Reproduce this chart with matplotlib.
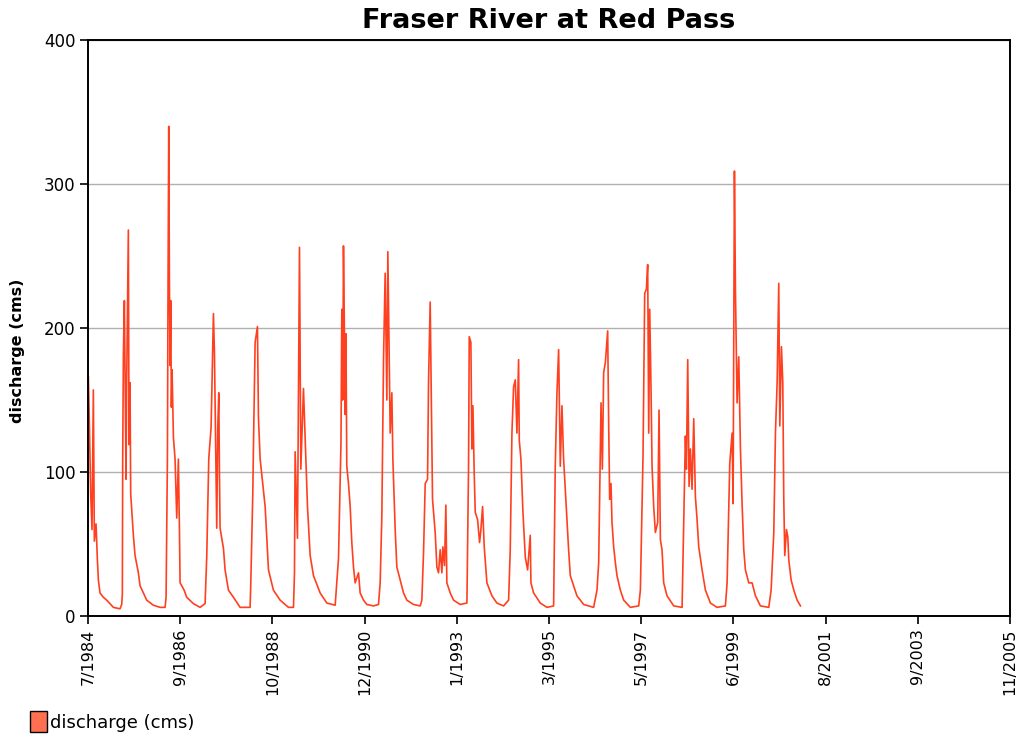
import numpy as np
import matplotlib
matplotlib.use('Agg')
import matplotlib.pyplot as plt
from matplotlib.patches import Patch

# daily discharge (decimal year, cms)
year = [1984.508, 1984.531, 1984.562, 1984.593, 1984.624, 1984.647, 1984.686, 1984.716, 1984.740, 1984.778,
        1984.855, 1984.933, 1985.087, 1985.241, 1985.280, 1985.295, 1985.303, 1985.319, 1985.342, 1985.380,
        1985.396, 1985.434, 1985.450, 1985.473, 1985.488, 1985.550, 1985.589, 1985.666, 1985.705, 1985.782,
        1985.859, 1986.013, 1986.168, 1986.284, 1986.307, 1986.338, 1986.353, 1986.369, 1986.384, 1986.399,
        1986.415, 1986.430, 1986.446, 1986.477, 1986.515, 1986.554, 1986.592, 1986.616, 1986.631, 1986.670,
        1986.724, 1986.785, 1986.940, 1987.094, 1987.210, 1987.249, 1987.295, 1987.349, 1987.403, 1987.426,
        1987.480, 1987.503, 1987.527, 1987.542, 1987.557, 1987.635, 1987.673, 1987.750, 1987.866, 1988.021,
        1988.252, 1988.268, 1988.314, 1988.329, 1988.368, 1988.422, 1988.445, 1988.484, 1988.600, 1988.677,
        1988.791, 1988.947, 1989.140, 1989.256, 1989.279, 1989.294, 1989.348, 1989.395, 1989.426, 1989.487,
        1989.534, 1989.580, 1989.642, 1989.719, 1989.873, 1990.028, 1990.221, 1990.298, 1990.355, 1990.375,
        1990.395, 1990.413, 1990.435, 1990.452, 1990.470, 1990.490, 1990.529, 1990.568, 1990.606, 1990.645,
        1990.683, 1990.761, 1990.799, 1990.876, 1990.954, 1991.108, 1991.224, 1991.262, 1991.301, 1991.340,
        1991.378, 1991.417, 1991.440, 1991.471, 1991.494, 1991.533, 1991.556, 1991.610, 1991.648, 1991.726,
        1991.803, 1991.880, 1992.034, 1992.189, 1992.227, 1992.266, 1992.305, 1992.359, 1992.382, 1992.420,
        1992.444, 1992.474, 1992.536, 1992.575, 1992.613, 1992.652, 1992.691, 1992.714, 1992.752, 1992.783,
        1992.806, 1992.884, 1992.961, 1993.115, 1993.270, 1993.308, 1993.324, 1993.362, 1993.385, 1993.409,
        1993.439, 1993.463, 1993.517, 1993.563, 1993.594, 1993.633, 1993.671, 1993.733, 1993.849, 1993.964,
        1994.119, 1994.235, 1994.273, 1994.312, 1994.350, 1994.389, 1994.428, 1994.466, 1994.482, 1994.520,
        1994.567, 1994.621, 1994.675, 1994.736, 1994.752, 1994.814, 1994.968, 1995.122, 1995.277, 1995.315,
        1995.354, 1995.393, 1995.431, 1995.470, 1995.508, 1995.547, 1995.586, 1995.624, 1995.663, 1995.740,
        1995.817, 1995.972, 1996.203, 1996.281, 1996.320, 1996.374, 1996.405, 1996.435, 1996.474, 1996.528,
        1996.551, 1996.574, 1996.605, 1996.628, 1996.667, 1996.706, 1996.744, 1996.821, 1996.899, 1997.053,
        1997.246, 1997.285, 1997.346, 1997.385, 1997.424, 1997.454, 1997.478, 1997.501, 1997.532, 1997.555,
        1997.593, 1997.632, 1997.686, 1997.717, 1997.748, 1997.786, 1997.825, 1997.902, 1998.057, 1998.250,
        1998.288, 1998.327, 1998.350, 1998.381, 1998.412, 1998.443, 1998.481, 1998.520, 1998.558, 1998.597,
        1998.636, 1998.713, 1998.790, 1998.906, 1999.060, 1999.253, 1999.292, 1999.354, 1999.408, 1999.431,
        1999.462, 1999.485, 1999.523, 1999.562, 1999.601, 1999.639, 1999.678, 1999.716, 1999.794, 1999.871,
        1999.948, 2000.064, 2000.257, 2000.311, 2000.373, 2000.411, 2000.450, 2000.488, 2000.512, 2000.550,
        2000.581, 2000.604, 2000.627, 2000.666, 2000.697, 2000.720, 2000.774, 2000.836, 2000.913, 2000.990]
discharge = [166, 135, 85, 60, 157, 52, 64, 40, 25, 16,
             13, 11, 6, 5, 8, 15, 109, 181, 219, 95,
             164, 268, 119, 162, 85, 56, 42, 30, 21, 16,
             11, 7.5, 6, 6, 13, 109, 233, 340, 233, 174,
             219, 145, 171, 124, 109, 68, 109, 61, 23, 21,
             18, 13, 8.6, 6, 8.6, 42, 109, 131, 210, 184,
             61, 130, 155, 100, 61, 47, 32, 18, 13, 6,
             6, 23, 85, 117, 190, 201, 138, 109, 76, 32,
             18, 11, 6, 6, 30, 114, 54, 256, 102, 158,
             117, 76, 42, 28, 16, 9, 7.5, 40, 120, 213,
             150, 257, 196, 140, 196, 104, 92, 76, 51, 34,
             23, 30, 16, 11, 8, 7, 8, 23, 69, 178,
             238, 150, 253, 183, 127, 155, 109, 60, 34, 25,
             16, 11, 8, 7, 11, 44, 92, 95, 163, 218,
             159, 81, 58, 34, 30, 46, 30, 48, 35, 77,
             23, 16, 11, 8, 9, 104, 194, 190, 116, 146,
             99, 72, 67, 51, 60, 76, 48, 23, 14, 9,
             7, 11, 46, 127, 159, 164, 127, 178, 122, 109,
             72, 41, 32, 56, 23, 16, 9, 6, 7, 104,
             155, 185, 104, 146, 109, 88, 67, 46, 28, 21,
             14, 8, 6, 18, 37, 148, 102, 169, 176, 198,
             134, 81, 92, 65, 48, 37, 28, 18, 11, 6,
             7, 18, 111, 224, 227, 244, 127, 213, 157, 104,
             76, 58, 65, 143, 53, 46, 23, 14, 7, 6,
             65, 125, 102, 178, 90, 116, 88, 137, 83, 67,
             48, 32, 18, 9, 6, 7, 23, 106, 127, 78,
             309, 227, 148, 180, 116, 78, 46, 32, 23, 23,
             14, 7, 6, 18, 58, 127, 162, 231, 132, 187,
             162, 81, 42, 60, 55, 39, 25, 18, 11, 7]

tick_labels = ['7/1984', '9/1986', '10/1988', '12/1990', '1/1993', '3/1995',
               '5/1997', '6/1999', '8/2001', '9/2003', '11/2005']
x_start, x_end = 1984.5, 2005.84

plt.rcParams['font.family'] = ['DejaVu Sans']

fig = plt.figure(figsize=(10.21, 7.36), dpi=100)
ax = fig.add_axes([88/1021, 1-616/736, (1010-88)/1021, (616-40)/736])

ax.plot(year, discharge, color='#ff4020', lw=1.2)

ax.set_xlim(x_start, x_end)
ax.set_ylim(0, 400)
ax.set_xticks(np.linspace(x_start, x_end, len(tick_labels)))
ax.set_xticklabels(tick_labels, rotation=90, fontsize=11.5)
ax.set_yticks([0, 100, 200, 300, 400])
ax.set_yticklabels(['0', '100', '200', '300', '400'], fontsize=12)
ax.tick_params(direction='out', length=6, width=1.2, colors='black', pad=3)
ax.yaxis.grid(True, color='#b0b0b0', lw=1)
ax.set_axisbelow(True)
for s in ax.spines.values():
    s.set_linewidth(1.4)

ax.set_ylabel('discharge (cms)', fontsize=11.5, fontweight='bold')
ax.yaxis.set_label_coords(-0.068, 0.46)
fig.text(0.537, 0.972, 'Fraser River at Red Pass', ha='center', va='center',
         fontsize=19.5, fontweight='bold')

leg = fig.legend(handles=[Patch(facecolor='#ff7050', edgecolor='black', label='discharge (cms)')],
                 loc='lower left', bbox_to_anchor=(0.013, -0.017), frameon=False,
                 prop={'size': 13},
                 handlelength=0.95, handleheight=1.45, handletextpad=0.2)

fig.savefig('out.png', dpi=100)
